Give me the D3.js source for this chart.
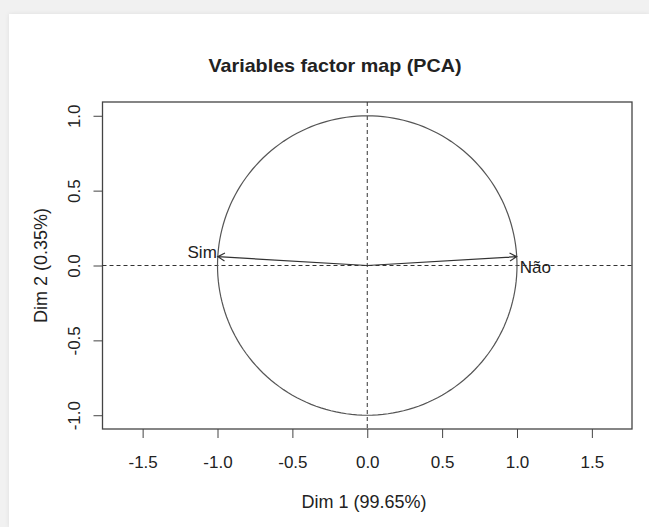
<!DOCTYPE html>
<html lang="pt">
<head>
  <meta charset="utf-8">
  <title>Variables factor map (PCA)</title>
  <style>
    body {
      margin: 0;
      background-color: #f1f1f1;
    }
    svg {
      display: block;
      font-family: "Liberation Sans", Arial, sans-serif;
    }
    .axis text {
      font-size: 17px;
      fill: #222;
    }
    .axis path, .axis line {
      stroke: #444;
    }
  </style>
  <script src="https://d3js.org/d3.v7.min.js"></script>
</head>
<body>
<script>

    // data
    let variables = ["Sim", "Não"]
    let dim1 = [-0.998, 0.998]
    let dim2 = [0.059, 0.059]
    let xTicks = [-1.5, -1.0, -0.5, 0.0, 0.5, 1.0, 1.5]
    let yTicks = [-1.0, -0.5, 0.0, 0.5, 1.0]

    let width = 649
    let height = 527

    let svg = d3.select('body')
                .append('svg')
                .attr('width', width)
                .attr('height', height)

    // white page on the grey background
    svg.append('rect')
        .attr('x', 9)
        .attr('y', 14)
        .attr('width', width - 9)
        .attr('height', height - 14)
        .attr('fill', '#fff')
        .style('filter', 'drop-shadow(0px 0px 2px rgba(0,0,0,0.08))')

    let xScale = d3.scaleLinear()
                    .domain([-1.768, 1.768])
                    .range([102.5, 632])
    let yScale = d3.scaleLinear()
                    .domain([-1.092, 1.092])
                    .range([429, 102])

    // R style labels: plain hyphen as minus sign
    let fmt = (d) => d.toFixed(1)

    // axes
    let xAxis = d3.axisBottom(xScale)
                    .tickValues(xTicks)
                    .tickFormat(fmt)
                    .tickSize(9)
                    .tickSizeOuter(0)
    let gx = svg.append('g')
        .attr('class', 'axis')
        .attr('transform', `translate(0, ${yScale.range()[0]})`)
        .call(xAxis)
    gx.select('.domain').remove()
    gx.selectAll('.tick text')
        .attr('y', 39)
        .attr('dy', 0)

    let yAxis = d3.axisLeft(yScale)
                    .tickValues(yTicks)
                    .tickFormat(fmt)
                    .tickSize(9)
                    .tickSizeOuter(0)
    let gy = svg.append('g')
        .attr('class', 'axis')
        .attr('transform', `translate(${xScale.range()[0]}, 0)`)
        .call(yAxis)
    gy.select('.domain').remove()
    gy.selectAll('.tick text')
        .attr('x', 0)
        .attr('dy', 0)
        .attr('text-anchor', 'middle')
        .attr('transform', 'translate(-23, 0) rotate(-90)')

    // plot box
    svg.append('rect')
        .attr('x', xScale.range()[0])
        .attr('y', yScale.range()[1])
        .attr('width', xScale.range()[1] - xScale.range()[0])
        .attr('height', yScale.range()[0] - yScale.range()[1])
        .attr('fill', 'none')
        .attr('stroke', '#444')
        .attr('stroke-width', 1.3)

    // dashed reference lines
    svg.append('line')
        .attr('x1', xScale.range()[0]).attr('x2', xScale.range()[1])
        .attr('y1', yScale(0)).attr('y2', yScale(0))
        .attr('stroke', '#333')
        .attr('stroke-dasharray', '4,3')
    svg.append('line')
        .attr('x1', xScale(0)).attr('x2', xScale(0))
        .attr('y1', yScale.range()[1]).attr('y2', yScale.range()[0])
        .attr('stroke', '#333')
        .attr('stroke-dasharray', '4,3')

    // correlation circle
    let circle = d3.range(0, 361, 2).map((a) => [Math.cos(a * Math.PI / 180), Math.sin(a * Math.PI / 180)])
    svg.append('path')
        .attr('d', d3.line().x((d) => xScale(d[0])).y((d) => yScale(d[1]))(circle))
        .attr('fill', 'none')
        .attr('stroke', '#555')
        .attr('stroke-width', 1.2)

    // arrows
    let head = 8
    variables.forEach((name, i) => {
        let x0 = xScale(0), y0 = yScale(0)
        let x1 = xScale(dim1[i]), y1 = yScale(dim2[i])
        let ang = Math.atan2(y1 - y0, x1 - x0)
        let a1 = ang + Math.PI - Math.PI / 6
        let a2 = ang + Math.PI + Math.PI / 6
        svg.append('path')
            .attr('d', `M${x0},${y0}L${x1},${y1}` +
                `M${x1 + head * Math.cos(a1)},${y1 + head * Math.sin(a1)}L${x1},${y1}` +
                `L${x1 + head * Math.cos(a2)},${y1 + head * Math.sin(a2)}`)
            .attr('fill', 'none')
            .attr('stroke', '#333')
            .attr('stroke-width', 1.2)

        let left = dim1[i] < 0
        svg.append('text')
            .attr('x', left ? x1 - 1 : x1 + 3)
            .attr('y', left ? y1 + 1 : y1 + 16)
            .attr('text-anchor', left ? 'end' : 'start')
            .attr('font-size', 17)
            .attr('fill', '#222')
            .text(name)
    })

    // titles
    svg.append('text')
        .attr('x', 335)
        .attr('y', 72)
        .attr('text-anchor', 'middle')
        .attr('font-size', 19)
        .attr('font-weight', 'bold')
        .attr('fill', '#222')
        .attr('textLength', 253)
        .attr('lengthAdjust', 'spacingAndGlyphs')
        .text('Variables factor map (PCA)')

    svg.append('text')
        .attr('x', 364)
        .attr('y', 508)
        .attr('text-anchor', 'middle')
        .attr('font-size', 18)
        .attr('fill', '#222')
        .text('Dim 1 (99.65%)')

    svg.append('text')
        .attr('transform', `translate(47, ${yScale(0)}) rotate(-90)`)
        .attr('text-anchor', 'middle')
        .attr('font-size', 18)
        .attr('fill', '#222')
        .text('Dim 2 (0.35%)')

</script>
</body>
</html>
